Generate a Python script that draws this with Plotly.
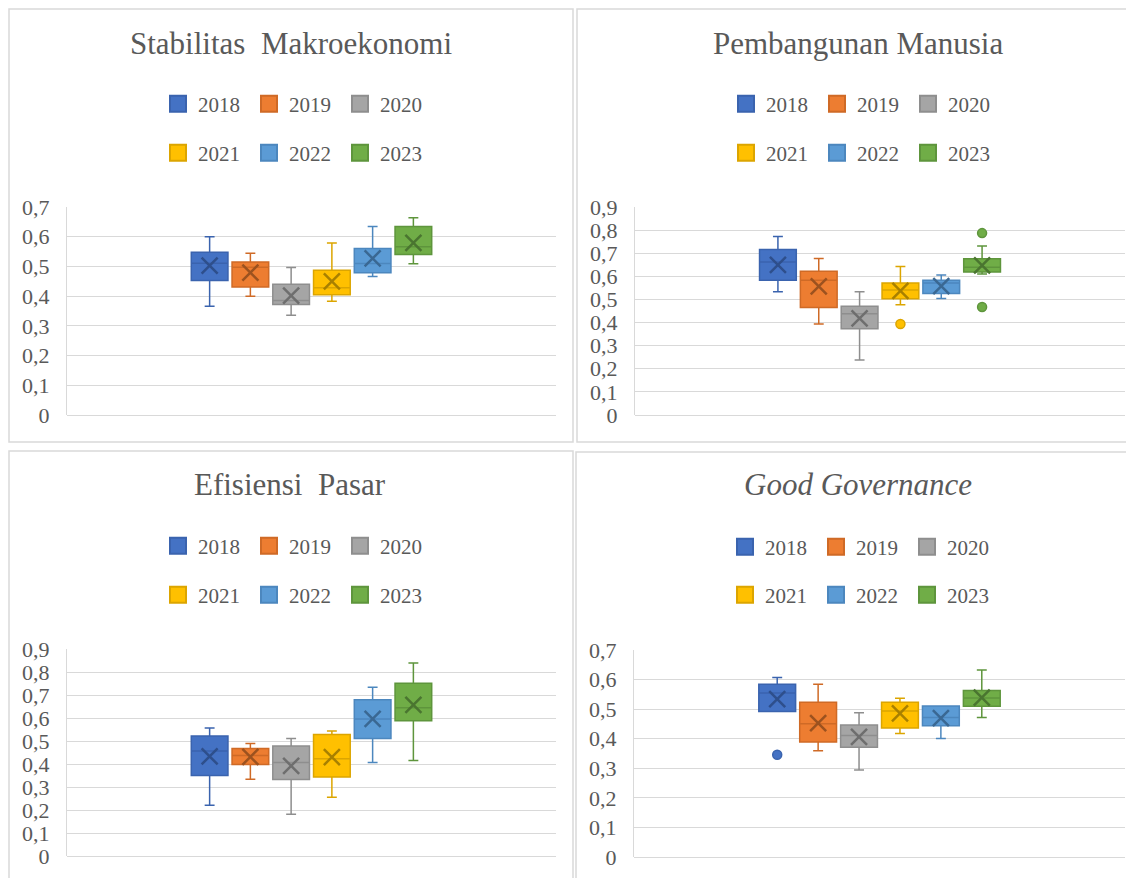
import plotly.graph_objects as go

years = [2018, 2019, 2020, 2021, 2022, 2023]
fill_colors = ['#4472C4', '#ED7D31', '#A5A5A5', '#FFC000', '#5B9BD5', '#70AD47']
line_colors = ['#3A63AE', '#CF6A26', '#8E8E8E', '#DCA500', '#4C87BE', '#5E953C']
mean_colors = ['#2E4F8C', '#9C521F', '#6E6E6E', '#A88000', '#3A6893', '#4A7530']

titles = ['Stabilitas  Makroekonomi', 'Pembangunan Manusia', 'Efisiensi  Pasar', '<i>Good Governance</i>']

# Panel 1: Stabilitas Makroekonomi
p1_upper = [0.600, 0.544, 0.496, 0.579, 0.634, 0.664]
p1_q3 = [0.548, 0.515, 0.440, 0.487, 0.560, 0.634]
p1_median = [0.511, 0.497, 0.385, 0.428, 0.510, 0.566]
p1_q1 = [0.453, 0.431, 0.372, 0.405, 0.479, 0.540]
p1_lower = [0.366, 0.400, 0.336, 0.383, 0.466, 0.509]
p1_mean = [0.503, 0.479, 0.402, 0.450, 0.527, 0.579]
p1_outliers = [[], [], [], [], [], []]

# Panel 2: Pembangunan Manusia
p2_upper = [0.772, 0.677, 0.533, 0.643, 0.606, 0.731]
p2_q3 = [0.716, 0.622, 0.471, 0.571, 0.583, 0.676]
p2_median = [0.662, 0.583, 0.438, 0.541, 0.571, 0.639]
p2_q1 = [0.583, 0.465, 0.373, 0.503, 0.526, 0.619]
p2_lower = [0.533, 0.394, 0.238, 0.477, 0.504, 0.610]
p2_mean = [0.650, 0.557, 0.418, 0.537, 0.558, 0.647]
p2_outliers = [[], [], [], [0.394], [], [0.787, 0.467]]

# Panel 3: Efisiensi Pasar
p3_upper = [0.556, 0.489, 0.511, 0.544, 0.734, 0.839]
p3_q3 = [0.522, 0.467, 0.478, 0.528, 0.679, 0.751]
p3_median = [0.456, 0.437, 0.407, 0.423, 0.596, 0.645]
p3_q1 = [0.350, 0.398, 0.333, 0.343, 0.511, 0.588]
p3_lower = [0.221, 0.334, 0.182, 0.255, 0.407, 0.415]
p3_mean = [0.433, 0.431, 0.392, 0.430, 0.596, 0.657]
p3_outliers = [[], [], [], [], [], []]

# Panel 4: Good Governance
p4_upper = [0.607, 0.584, 0.488, 0.537, 0.511, 0.632]
p4_q3 = [0.584, 0.523, 0.446, 0.523, 0.511, 0.563]
p4_median = [0.555, 0.451, 0.411, 0.494, 0.472, 0.538]
p4_q1 = [0.492, 0.389, 0.371, 0.436, 0.444, 0.510]
p4_lower = [0.492, 0.359, 0.294, 0.418, 0.401, 0.472]
p4_mean = [0.534, 0.453, 0.406, 0.486, 0.470, 0.539]
p4_outliers = [[0.346], [], [], [], [], []]

y_max = [0.7, 0.9, 0.9, 0.7]

panels = [
    (p1_upper, p1_q3, p1_median, p1_q1, p1_lower, p1_mean, p1_outliers),
    (p2_upper, p2_q3, p2_median, p2_q1, p2_lower, p2_mean, p2_outliers),
    (p3_upper, p3_q3, p3_median, p3_q1, p3_lower, p3_mean, p3_outliers),
    (p4_upper, p4_q3, p4_median, p4_q1, p4_lower, p4_mean, p4_outliers),
]

W, H = 1134, 878
OFF = 8  # page body margin
FONT = 'Liberation Serif'
TXT = '#595959'
GRID = '#D9D9D9'


def fx(p):
    return (p - OFF) / W


def fy(p):
    return 1 - (p - OFF) / H


# layout geometry in screen pixels (left, right) / (top, bottom)
plot_x = [(67, 556), (635, 1125), (67, 556), (634, 1125)]
plot_y = [(207, 415), (207, 415), (649, 856), (650, 857)]
borders = [(9, 9, 573, 442), (577, 9, 1133, 442), (9, 451, 573, 884), (576, 452, 1133, 884)]
title_pos = [(291, 43), (858, 43), (290, 485), (858, 485)]
legend_rows = [(104, 153), (104, 153), (546, 595), (547, 595)]
legend_left = [168, 736, 168, 735]

fig = go.Figure()
layout = dict(
    width=W, height=H, margin=dict(l=0, r=0, t=0, b=0, pad=0, autoexpand=False),
    paper_bgcolor='white', plot_bgcolor='white',
    separators=', ', showlegend=True, hovermode=False,
    font=dict(family=FONT, color=TXT),
    annotations=[], shapes=[],
)

for pi, data in enumerate(panels):
    upper, q3, median, q1, lower, mean, outliers = data
    ax = '' if pi == 0 else str(pi + 1)
    xa, ya = 'x' + ax, 'y' + ax
    leg_a = 'legend' if pi == 0 else 'legend' + str(2 * pi + 1)
    leg_b = 'legend' + str(2 * pi + 2)
    for i, yr in enumerate(years):
        fig.add_trace(go.Box(
            x=[yr], q1=[q1[i]], median=[median[i]], q3=[q3[i]],
            lowerfence=[lower[i]], upperfence=[upper[i]],
            width=0.9, whiskerwidth=0.27, fillcolor=fill_colors[i],
            line=dict(color=line_colors[i], width=1.5),
            boxpoints=False, showlegend=False, xaxis=xa, yaxis=ya, name=str(yr)))
        fig.add_trace(go.Scatter(
            x=[yr], y=[mean[i]], mode='markers',
            marker=dict(symbol='x-thin', size=16, line=dict(color=mean_colors[i], width=2.5)),
            showlegend=False, xaxis=xa, yaxis=ya))
        if outliers[i]:
            fig.add_trace(go.Scatter(
                x=[yr] * len(outliers[i]), y=outliers[i], mode='markers',
                marker=dict(symbol='circle', size=9, color=fill_colors[i],
                            line=dict(color=line_colors[i], width=1.5)),
                showlegend=False, xaxis=xa, yaxis=ya))
        fig.add_trace(go.Scatter(
            x=[None], y=[None], mode='markers', name=str(yr),
            marker=dict(symbol='square', size=16, color=fill_colors[i],
                        line=dict(color=line_colors[i], width=2)),
            legend=leg_a if i < 3 else leg_b, xaxis=xa, yaxis=ya))

    x0, x1 = plot_x[pi]
    yt, yb = plot_y[pi]
    layout['xaxis' + ax] = dict(
        domain=[fx(x0), fx(x1)], range=[2014.5, 2026.5], showticklabels=False,
        showgrid=False, zeroline=False, showline=False, ticks='', fixedrange=True,
        automargin=False, anchor=ya)
    layout['yaxis' + ax] = dict(
        domain=[fy(yb), fy(yt)], range=[0, y_max[pi]], dtick=0.1, tick0=0,
        tickformat='.1~f', showgrid=True, gridcolor=GRID, gridwidth=1.3,
        zeroline=True, zerolinecolor=GRID, zerolinewidth=1.3,
        showline=True, linecolor=GRID, linewidth=1.3, ticks='',
        ticklabelstandoff=12, tickfont=dict(family=FONT, size=22, color=TXT),
        automargin=False, anchor=xa)

    bx0, by0, bx1, by1 = borders[pi]
    layout['shapes'].append(dict(
        type='rect', xref='paper', yref='paper', x0=fx(bx0), x1=fx(bx1),
        y0=fy(by1), y1=fy(by0), line=dict(color=GRID, width=1.5),
        fillcolor='rgba(0,0,0,0)', layer='below'))

    tx, ty = title_pos[pi]
    layout['annotations'].append(dict(
        text=titles[pi], xref='paper', yref='paper', x=fx(tx), y=fy(ty),
        xanchor='center', yanchor='middle', showarrow=False,
        font=dict(family=FONT, size=31, color=TXT)))

    for li, (lname, ry) in enumerate(zip([leg_a, leg_b], legend_rows[pi])):
        layout[lname] = dict(
            orientation='h', x=fx(legend_left[pi] - 10), xanchor='left',
            y=fy(ry), yanchor='middle', bgcolor='rgba(0,0,0,0)',
            font=dict(family=FONT, size=21, color=TXT),
            itemsizing='trace', entrywidth=46, entrywidthmode='pixels',
            tracegroupgap=0, itemclick=False, itemdoubleclick=False)

fig.update_layout(**layout)
fig.write_html('out.html')
